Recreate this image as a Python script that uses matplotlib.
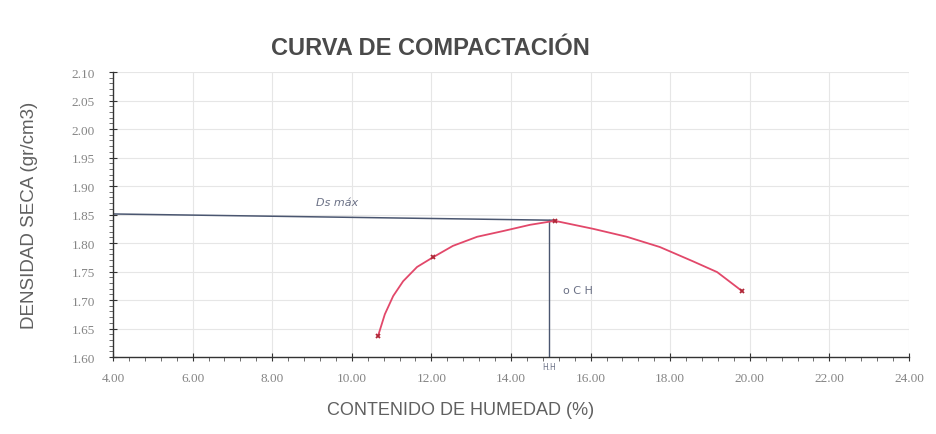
import numpy as np
import matplotlib
matplotlib.use('Agg')
import matplotlib.pyplot as plt
from matplotlib.ticker import MultipleLocator, FormatStrFormatter

# ensayo Proctor: puntos medidos (humedad %, densidad seca gr/cm3)
humedad = [10.66, 12.04, 15.10, 19.80]
densidad = [1.637, 1.775, 1.839, 1.716]

# trazo de la curva a mano alzada que pasa por los puntos
curva_x = [10.66, 10.83, 11.04, 11.29, 11.64, 12.04, 12.54, 13.15, 13.80,
           14.48, 15.10, 16.06, 16.91, 17.74, 18.57, 19.18, 19.80]
curva_y = [1.637, 1.675, 1.707, 1.733, 1.758, 1.775, 1.795, 1.811, 1.821,
           1.832, 1.839, 1.825, 1.811, 1.793, 1.768, 1.749, 1.716]

# densidad seca maxima y contenido optimo de humedad
ds_max_x = [4.00, 15.10]
ds_max_y = [1.851, 1.840]
och_x = [14.95, 14.95]
och_y = [1.840, 1.600]

x_ticks = np.arange(4, 24.01, 2)
y_ticks = np.arange(1.60, 2.101, 0.05)

fig = plt.figure(figsize=(9.37, 4.35), dpi=100)
ax = fig.add_axes((0.1206, 0.177, 0.8495, 0.655))

ax.set_xlim(4, 24)
ax.set_ylim(1.60, 2.10)
ax.set_xticks(x_ticks)
ax.set_yticks(y_ticks)
ax.xaxis.set_minor_locator(MultipleLocator(0.4))
ax.yaxis.set_minor_locator(MultipleLocator(0.01))
ax.xaxis.set_major_formatter(FormatStrFormatter('%.2f'))
ax.yaxis.set_major_formatter(FormatStrFormatter('%.2f'))

ax.grid(True, which='major', color='#e6e6e6', linewidth=0.8)
ax.set_axisbelow(True)
for s in ['top', 'right']:
    ax.spines[s].set_visible(False)
for s in ['left', 'bottom']:
    ax.spines[s].set_color('#333333')
    ax.spines[s].set_linewidth(1.0)

ax.tick_params(which='major', direction='inout', length=6, width=0.8,
               color='#333333', labelcolor='#858585', labelsize=9.5)
ax.tick_params(axis='y', which='major', pad=10)
ax.tick_params(axis='x', which='major', pad=8)
ax.tick_params(which='minor', direction='out', length=3, width=0.6,
               color='#555555')
for lbl in ax.get_xticklabels() + ax.get_yticklabels():
    lbl.set_family('Liberation Serif')

# lineas de lectura (Ds max y OCH)
ax.plot(ds_max_x, ds_max_y, color='#4a5670', linewidth=1.1)
ax.plot(och_x, och_y, color='#4a5670', linewidth=1.0)

# curva de compactacion
ax.plot(curva_x, curva_y, color='#e2486a', linewidth=1.3)
ax.plot(humedad, densidad, linestyle='none', marker='x', markersize=3.5,
        markeredgewidth=1.3, color='#b02838')

# anotaciones a mano
ax.text(9.1, 1.866, 'Ds máx', fontsize=8, style='italic', color='#6a7085',
        family='DejaVu Sans')
ax.text(15.3, 1.712, 'o C H', fontsize=8, color='#6a7085',
        family='DejaVu Sans')
ax.text(14.95, 1.592, 'H.H', fontsize=5.5, color='#6a7085', ha='center',
        va='top', family='DejaVu Sans')

fig.text(0.459, 0.888, 'CURVA DE COMPACTACIÓN', ha='center', va='center',
         fontsize=17, fontweight='bold', color='#4a4a4a',
         family=['Liberation Sans Narrow', 'Liberation Sans'])
fig.text(0.491, 0.057, 'CONTENIDO DE HUMEDAD (%)', ha='center', va='center',
         fontsize=13, color='#606060', family='Liberation Sans')
fig.text(0.032, 0.505, 'DENSIDAD SECA (gr/cm3)', ha='center', va='center',
         rotation=90, fontsize=13.5, color='#606060', family='Liberation Sans')

fig.savefig('out.png', dpi=100)
